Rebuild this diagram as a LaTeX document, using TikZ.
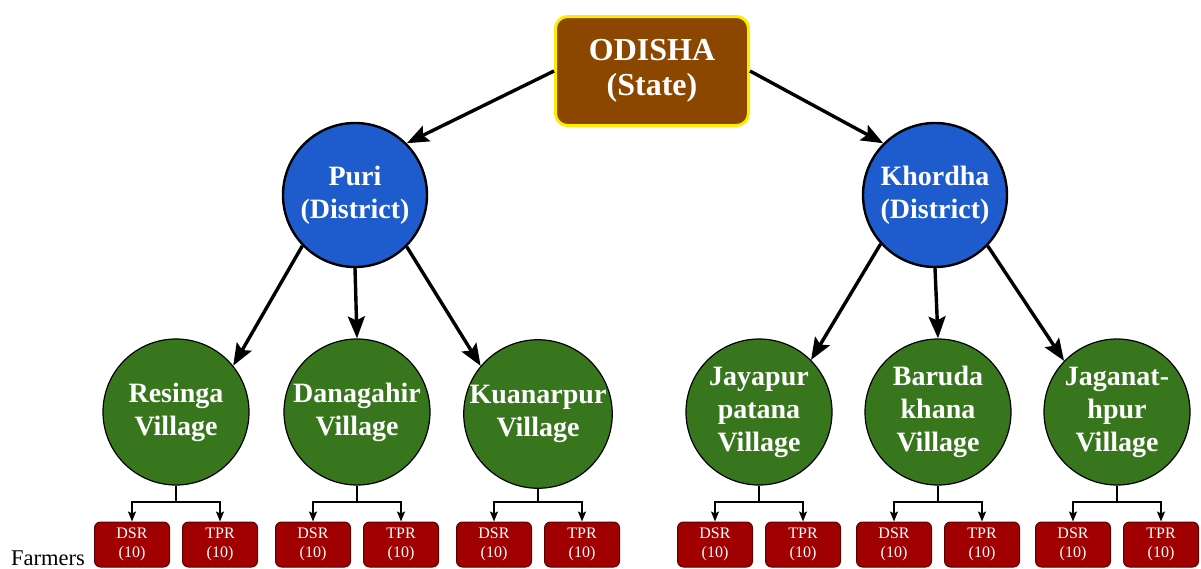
\documentclass[tikz,border=0pt]{standalone}
\usepackage{fontspec}
\setmainfont{Liberation Serif}
\usetikzlibrary{arrows.meta}
\definecolor{statebrown}{RGB}{139,71,0}
\definecolor{stateyellow}{RGB}{255,236,0}
\definecolor{distblue}{RGB}{30,92,206}
\definecolor{villgreen}{RGB}{56,118,29}
\definecolor{farmred}{RGB}{160,0,0}
\definecolor{farmborder}{RGB}{90,0,0}
\begin{document}
\begin{tikzpicture}[x=1pt,y=1pt,
 statebox/.style={draw=stateyellow, line width=3pt, fill=statebrown, rounded corners=12pt,
   minimum width=193pt, minimum height=109pt, inner sep=0pt, text=white,
   font=\bfseries\fontsize{32}{35}\selectfont, align=center},
 district/.style={circle, draw=black, line width=2.4pt, fill=distblue, minimum size=144pt,
   inner sep=0pt, text=white, font=\bfseries\fontsize{28}{33}\selectfont, align=center},
 village/.style={circle, draw=black, line width=1.2pt, fill=villgreen, minimum size=146pt,
   inner sep=0pt, text=white, font=\bfseries\fontsize{28}{33}\selectfont, align=center},
 farmbox/.style={draw=farmborder, line width=1pt, fill=farmred, rounded corners=6pt,
   minimum width=75pt, minimum height=45pt, inner sep=0pt, text=white,
   font=\fontsize{16}{19}\selectfont, align=center},
 bigarrow/.style={-{Stealth[length=22pt,width=17pt,inset=4pt]}, line width=3.4pt},
 smallarrow/.style={-{Stealth[length=10pt,width=8pt,inset=2pt]}, line width=1.4pt},
 stem/.style={line width=1.4pt},
]
\useasboundingbox (0,0) rectangle (1201,-568);

% state
\node[statebox] (odisha) at (652,-71) {ODISHA\\(State)};

% districts
\node[district] (puri) at (355,-195) {Puri\\(District)};
\node[district] (khordha) at (935,-195) {Khordha\\(District)};

% villages
\node[village] (res) at (176,-412) {Resinga\\Village};
\node[village] (dan) at (357,-412) {Danagahir\\Village};
\node[village] (kua) at (538,-414) {Kuanarpur\\Village};
\node[village] (jay) at (759,-412) {Jayapur\\patana\\Village};
\node[village] (bar) at (938,-412) {Baruda\\khana\\Village};
\node[village] (jag) at (1117,-412) {Jaganat-\\hpur\\Village};

% farmer boxes
\foreach \v/\x in {res/176, dan/357, kua/538, jay/759, bar/938, jag/1117}{
  \node[farmbox] (\v-dsr) at (\x-44,-544.5) {DSR\\(10)};
  \node[farmbox] (\v-tpr) at (\x+44,-544.5) {TPR\\(10)};
  \coordinate (\v-j) at (\x,-502);
  \draw[stem] (\v.south) -- (\v-j);
  \draw[smallarrow] (\v-j) -| (\v-dsr.north);
  \draw[smallarrow] (\v-j) -| (\v-tpr.north);
}

\node[anchor=base west, font=\fontsize{22.5}{27}\selectfont, inner sep=0pt] (farmers) at (11,-565) {Farmers};

% big arrows
\draw[bigarrow] (odisha.west) -- (puri.45);
\draw[bigarrow] (odisha.east) -- (khordha.135);
\draw[bigarrow] (puri.224) -- (res.39);
\draw[bigarrow] (puri.-90) -- (dan.90);
\draw[bigarrow] (puri.-45) -- (kua.140);
\draw[bigarrow] (khordha.222) -- (jay.45);
\draw[bigarrow] (khordha.-90) -- (bar.90);
\draw[bigarrow] (khordha.-44) -- (jag.136);
\end{tikzpicture}
\end{document}
